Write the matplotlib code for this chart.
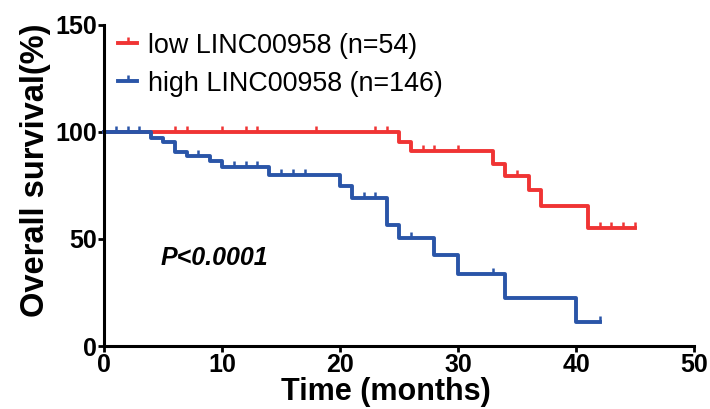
import numpy as np
import matplotlib
matplotlib.use("Agg")
import matplotlib.pyplot as plt
from matplotlib.path import Path

# survival data (step after each event time)
low_t = [0, 25, 26, 33, 34, 36, 37, 41, 45]
low_s = [100, 95.5, 91, 85, 79.5, 73, 65.5, 55, 55]
low_cens = [6, 7, 10, 12, 13, 18, 23, 24, 27, 28, 30, 35, 42, 43, 44, 45]

high_t = [0, 4, 5, 6, 7, 9, 10, 14, 20, 21, 24, 25, 28, 30, 34, 40, 42]
high_s = [100, 97.4, 95.5, 90.8, 88.7, 86.4, 83.7, 80, 74.6, 69.2, 56.5, 50.5,
          42.3, 33.7, 22.3, 11.3, 11.3]
high_cens = [1, 2, 3, 8, 11, 12, 13, 15, 16, 17, 22, 23, 26, 33, 42]

labels = ["low LINC00958 (n=54)", "high LINC00958 (n=146)"]
colors = ["#f03434", "#2a55a8"]

xticks = [0, 10, 20, 30, 40, 50]
yticks = [0, 50, 100, 150]

plt.rcParams['font.family'] = ['Liberation Sans', 'DejaVu Sans']

# censor mark: short vertical tick going up from the line
tick = Path([(0, 0), (0, 1)])


def level_at(t, s, x):
    idx = np.searchsorted(t, x, side='right') - 1
    return np.array(s)[idx]


fig = plt.figure(figsize=(7.1, 4.09), dpi=100)
ax = fig.add_axes([0.1465, 0.154, 0.831, 0.785])

for t, s, c, col, lab in [(low_t, low_s, low_cens, colors[0], labels[0]),
                          (high_t, high_s, high_cens, colors[1], labels[1])]:
    ax.step(t, s, where='post', color=col, lw=2.8, clip_on=False)
    ax.plot(c, level_at(t, s, c), ls='none', marker=tick, ms=9,
            mew=1.8, color=col, clip_on=False)
    ax.plot([], [], color=col, lw=2.8, marker=tick, ms=9, mew=1.8, label=lab)

ax.set_xlim(0, 50)
ax.set_ylim(0, 150)
ax.set_xticks(xticks)
ax.set_yticks(yticks)
ax.spines['top'].set_visible(False)
ax.spines['right'].set_visible(False)
for sp in ['left', 'bottom']:
    ax.spines[sp].set_linewidth(2.2)
ax.tick_params(width=2, length=4, labelsize=18, pad=1)
for lbl in ax.get_xticklabels() + ax.get_yticklabels():
    lbl.set_fontweight('bold')

ax.set_xlabel("Time (months)", fontsize=22, fontweight='bold')
ax.xaxis.set_label_coords(0.478, -0.098)
ax.set_ylabel("Overall survival(%)", fontsize=23.5, fontweight='bold')
ax.yaxis.set_label_coords(-0.09, 0.548)

ax.text(4.8, 41, "P<0.0001", fontsize=18, fontweight='bold', style='italic',
        va='center')

ax.legend(loc='upper left', bbox_to_anchor=(0.006, 1.01), frameon=False,
          fontsize=19.4, handlelength=0.7, handletextpad=0.4,
          labelspacing=0.45, numpoints=1, borderaxespad=0)

fig.savefig("out.png", dpi=100)
